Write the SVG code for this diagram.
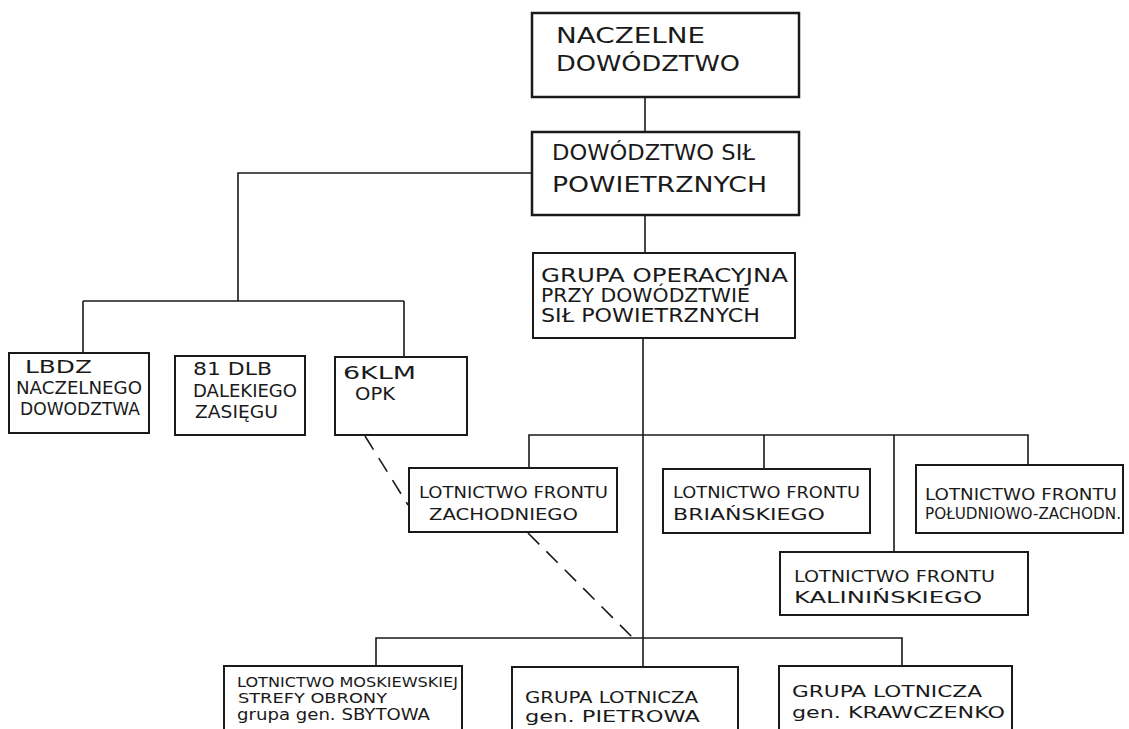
<svg xmlns="http://www.w3.org/2000/svg" width="1129" height="729" viewBox="0 0 1129 729">
<style>
.box{fill:#fff;stroke:#1a1a1a;stroke-width:2}
.bx{stroke-width:2.5}
.ln{fill:none;stroke:#1a1a1a;stroke-width:1.6}
.dash{fill:none;stroke:#1a1a1a;stroke-width:1.6;stroke-dasharray:16 10}
text{font-family:"DejaVu Sans","Liberation Sans",sans-serif;fill:#1a1a1a}
.t1{font-size:22px}
.t2{font-size:19px}
.t3{font-size:17px}
.t4{font-size:16px}
.t5{font-size:14px}
</style>
<rect width="1129" height="729" fill="#fff"/>
<g id="connectors">
<path class="ln" d="M645 97V132M645 215V253M532 173H238V301M83 301H404M83 301V353M404 301V357M643 338V667M529 468V435H1028V465M764 435V469M894 435V552M376 666V638H902V666"/>
<path class="dash" d="M365 436L408 505M528 533L632 637"/>
</g>
<g id="n1"><rect class="box bx" x="532" y="13" width="267" height="84"/>
<text class="t1" x="556" y="43" textLength="149" lengthAdjust="spacingAndGlyphs">NACZELNE</text>
<text class="t1" x="556" y="71" textLength="184" lengthAdjust="spacingAndGlyphs">DOWÓDZTWO</text></g>
<g id="n2"><rect class="box bx" x="532" y="132" width="267" height="83"/>
<text class="t1" x="552" y="160" textLength="203" lengthAdjust="spacingAndGlyphs">DOWÓDZTWO SIŁ</text>
<text class="t1" x="552" y="192" textLength="215" lengthAdjust="spacingAndGlyphs">POWIETRZNYCH</text></g>
<g id="n3"><rect class="box" x="533" y="253" width="262" height="85"/>
<text class="t2" x="541" y="282" textLength="247" lengthAdjust="spacingAndGlyphs">GRUPA OPERACYJNA</text>
<text class="t2" x="541" y="302" textLength="209" lengthAdjust="spacingAndGlyphs">PRZY DOWÓDZTWIE</text>
<text class="t2" x="541" y="322" textLength="219" lengthAdjust="spacingAndGlyphs">SIŁ POWIETRZNYCH</text></g>
<g id="n4"><rect class="box" x="9" y="353" width="140" height="80"/>
<text class="t3" x="25" y="373" textLength="67" lengthAdjust="spacingAndGlyphs">LBDZ</text>
<text class="t3" x="16" y="394" textLength="126" lengthAdjust="spacingAndGlyphs">NACZELNEGO</text>
<text class="t3" x="20" y="415" textLength="120" lengthAdjust="spacingAndGlyphs">DOWODZTWA</text></g>
<g id="n5"><rect class="box" x="175" y="356" width="130" height="79"/>
<text class="t3" x="193" y="375" textLength="79" lengthAdjust="spacingAndGlyphs">81 DLB</text>
<text class="t3" x="193" y="397" textLength="104" lengthAdjust="spacingAndGlyphs">DALEKIEGO</text>
<text class="t3" x="195" y="418" textLength="83" lengthAdjust="spacingAndGlyphs">ZASIĘGU</text></g>
<g id="n6"><rect class="box" x="335" y="357" width="132" height="78"/>
<text class="t3" x="343" y="379" textLength="73" lengthAdjust="spacingAndGlyphs">6KLM</text>
<text class="t3" x="355" y="400" textLength="40" lengthAdjust="spacingAndGlyphs">OPK</text></g>
<g id="n7"><rect class="box" x="409" y="468" width="208" height="64"/>
<text class="t4" x="419" y="498" textLength="189" lengthAdjust="spacingAndGlyphs">LOTNICTWO FRONTU</text>
<text class="t4" x="429" y="520" textLength="149" lengthAdjust="spacingAndGlyphs">ZACHODNIEGO</text></g>
<g id="n8"><rect class="box" x="663" y="469" width="207" height="64"/>
<text class="t4" x="673" y="498" textLength="187" lengthAdjust="spacingAndGlyphs">LOTNICTWO FRONTU</text>
<text class="t4" x="673" y="520" textLength="152" lengthAdjust="spacingAndGlyphs">BRIAŃSKIEGO</text></g>
<g id="n9"><rect class="box" x="916" y="465" width="207" height="68"/>
<text class="t4" x="925" y="500" textLength="192" lengthAdjust="spacingAndGlyphs">LOTNICTWO FRONTU</text>
<text class="t4" x="925" y="519" textLength="196" lengthAdjust="spacingAndGlyphs">POŁUDNIOWO-ZACHODN.</text></g>
<g id="n10"><rect class="box" x="780" y="552" width="248" height="63"/>
<text class="t4" x="794" y="582" textLength="201" lengthAdjust="spacingAndGlyphs">LOTNICTWO FRONTU</text>
<text class="t4" x="794" y="603" textLength="188" lengthAdjust="spacingAndGlyphs">KALINIŃSKIEGO</text></g>
<g id="n11"><rect class="box" x="224" y="666" width="238" height="75"/>
<text class="t5" x="237" y="687" textLength="221" lengthAdjust="spacingAndGlyphs">LOTNICTWO MOSKIEWSKIEJ</text>
<text class="t5" x="238" y="703" textLength="149" lengthAdjust="spacingAndGlyphs">STREFY OBRONY</text>
<text class="t4" x="237" y="720" textLength="193" lengthAdjust="spacingAndGlyphs">grupa gen. SBYTOWA</text></g>
<g id="n12"><rect class="box" x="512" y="667" width="226" height="75"/>
<text class="t4" x="525" y="703" textLength="173" lengthAdjust="spacingAndGlyphs">GRUPA LOTNICZA</text>
<text class="t4" x="525" y="722" textLength="175" lengthAdjust="spacingAndGlyphs">gen. PIETROWA</text></g>
<g id="n13"><rect class="box" x="779" y="666" width="233" height="75"/>
<text class="t4" x="792" y="697" textLength="190" lengthAdjust="spacingAndGlyphs">GRUPA LOTNICZA</text>
<text class="t4" x="792" y="718" textLength="213" lengthAdjust="spacingAndGlyphs">gen. KRAWCZENKO</text></g>
</svg>
